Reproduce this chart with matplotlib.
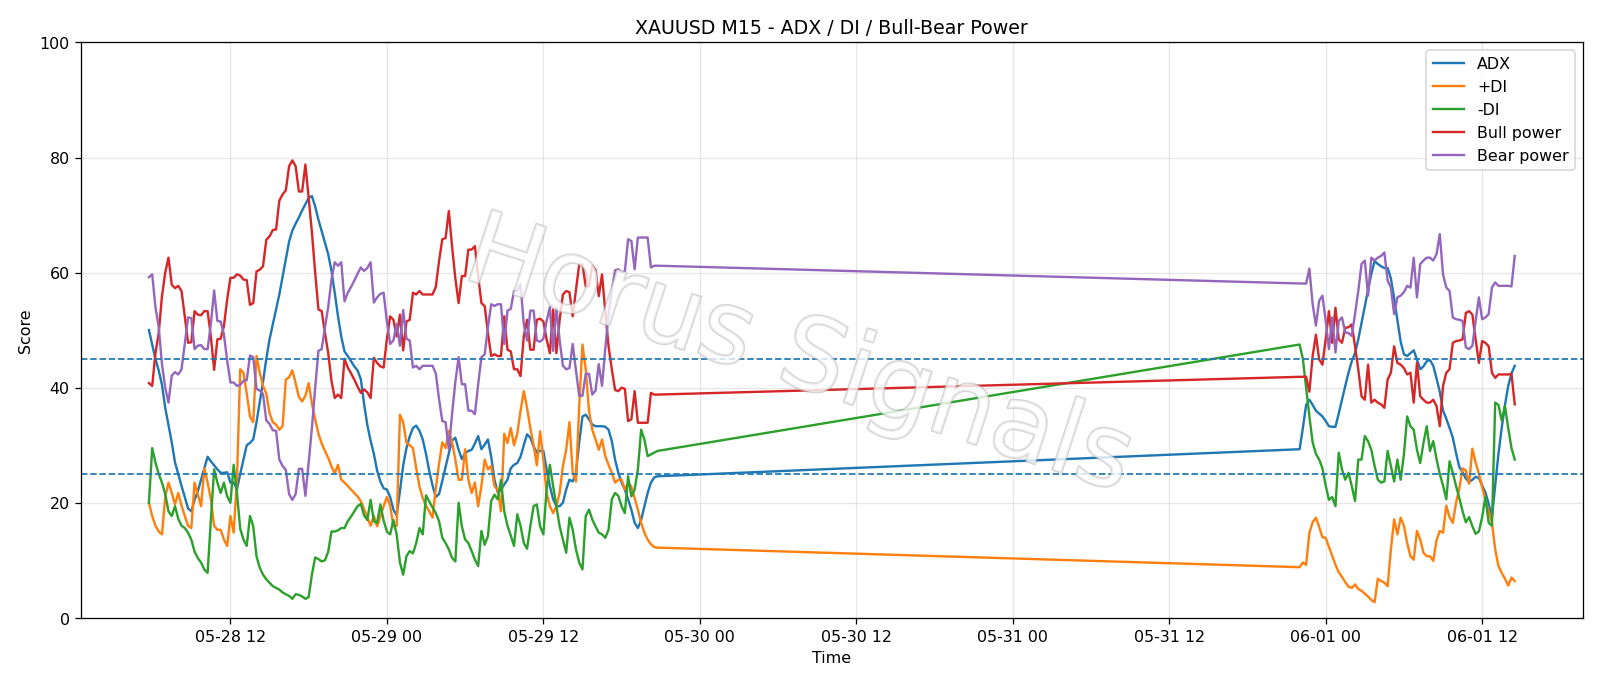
import numpy as np
import pandas as pd
import matplotlib
matplotlib.use("Agg")
import matplotlib.pyplot as plt
import matplotlib.dates as mdates
import matplotlib.patheffects as pe

# two trading sessions of M15 bars (weekend gap in between)
times = pd.date_range("2020-05-28 05:45", periods=157, freq="15min").append(
    pd.date_range("2020-05-31 22:00", periods=67, freq="15min"))

adx = [
    50, 47.5, 45, 43, 40.5, 36.5, 33.5, 30.5, 27, 25,
    22.9, 21, 19, 18.5, 20.5, 22, 24, 26, 28, 27.2,
    26.5, 25.8, 25.2, 25.2, 25.3, 23.5, 23.5, 22.3, 25, 27.5,
    30, 30.4, 31, 34, 37.5, 41, 45, 48.4, 51, 53.6,
    56.2, 59.3, 62.5, 65.4, 67.3, 68.5, 69.6, 70.8, 71.9, 73,
    73.3, 71.5, 69.2, 67.2, 65.2, 63.2, 60.3, 56.5, 52.4, 48.9,
    46.3, 45.5, 44.6, 43.7, 43, 41.5, 37.2, 33.5, 30.8, 28.5,
    25.6, 23.7, 22.5, 22.3, 21, 18.8, 17.8, 22, 26.5, 29.5,
    31.5, 33, 33.4, 32.5, 31, 28.5, 25.5, 23, 21, 21.5,
    23.8, 26.2, 28.6, 30.8, 31.3, 29.2, 27.6, 28.6, 29, 29.2,
    30.3, 31.6, 29.3, 30.1, 31, 28, 24, 21.8, 22.2, 23.2,
    24, 26, 26.6, 26.9, 28, 30, 31.9, 31.3, 29.8, 28.7,
    29, 29, 25.8, 22.9, 20.6, 19.4, 19.4, 20, 22.3, 24,
    23.7, 25.2, 30.5, 35, 35.3, 34.5, 33.6, 33.3, 33.3, 33.3,
    33.2, 32.7, 30.7, 27.5, 25.2, 23.5, 22.3, 20.6, 18.8, 16.5,
    15.6, 17, 19.4, 21.7, 23.5, 24.4, 24.6,
    29.3, 33, 37, 37.9, 37, 36, 35.5, 35, 34.2, 33.3,
    33.2, 33.2, 35.5, 37.9, 40.3, 42.6, 44.6, 46, 48.4, 51.3,
    54.2, 57, 59.8, 62, 61.5, 61.1, 60.8, 60.8, 59, 55.5,
    51.8, 48, 45.8, 45.5, 46, 46.5, 44.9, 43.2, 43.7, 44.6,
    44.8, 43.8, 41.6, 39.3, 36, 34.6, 33, 31.3, 28.6, 26.2,
    25.3, 24.2, 23.6, 24, 24.5, 24.3, 23, 21.8, 19.8, 17.5,
    23, 28.5, 33, 37, 40.3, 42.5, 43.8,
]

plus_di = [
    20, 17.7, 16, 15, 14.5, 21, 23.5, 21.7, 19.7, 21.7,
    19.5, 17.7, 16, 15.6, 23.5, 21.4, 19.4, 26, 23.5, 20.6,
    16, 15.3, 15.3, 13.6, 12.5, 17.7, 14.8, 24, 43.2, 42.6,
    39, 35, 34, 45.5, 42.6, 40.3, 39, 35.6, 34, 33.6,
    32.7, 33.3, 41.4, 41.8, 43, 40.8, 38.4, 37.6, 38.6, 40.8,
    37.2, 34.5, 32, 30.3, 29, 27.8, 26.3, 25.1, 26.6, 24,
    23.5, 22.9, 22.3, 21.7, 21.1, 20.3, 18.9, 17.5, 16, 17.7,
    15.9, 17.6, 19.4, 21, 19.5, 15.9, 16, 35.3, 34, 30.5,
    30, 29.5, 26, 22.8, 20.8, 19.5, 18.5, 17.4, 22.5, 26.8,
    30.5, 29.5, 32.5, 30.5, 27.5, 24, 24, 29.3, 24, 21.7,
    23.5, 19.4, 22.9, 27.5, 25.8, 26.4, 22.9, 22.3, 18.5, 32,
    30.4, 33, 30, 32, 36, 39.4, 36.5, 33, 30, 26.5,
    32.4, 27.5, 21.7, 19.4, 18.2, 19.4, 21.7, 26.4, 29.2, 34,
    25.2, 23.7, 36.8, 47.5, 43.2, 36, 32.7, 31, 29.2, 31,
    28.1, 26.6, 25.2, 23.5, 24, 24, 22.3, 23.5, 22.8, 20.8,
    18.8, 16.5, 14.8, 13.6, 12.8, 12.3, 12.2,
    8.8, 9.6, 9.2, 14.8, 16.6, 17.4, 15.8, 14, 13.9, 12.3,
    10.8, 9.2, 7.9, 7.1, 6.2, 5.4, 5.2, 5.8, 5, 4.7,
    4.2, 3.7, 3.1, 2.7, 6.8, 6.4, 6.1, 5.5, 11.9, 17.1,
    14.5, 17.4, 16, 13, 10.7, 10.1, 15.1, 13.6, 11.3, 10.7,
    10.7, 9.9, 13.5, 15.1, 14.8, 19.5, 17.5, 16.5, 20, 22.5,
    26, 25.6, 23.3, 29.4, 27, 25, 22.7, 20.5, 18.5, 16.5,
    11.9, 9, 7.8, 6.8, 5.6, 7, 6.4,
]

minus_di = [
    20, 29.5, 27, 25, 23.5, 21.5, 18.5, 17.7, 19.4, 17.2,
    16, 15.6, 14.8, 13.6, 11.5, 10.4, 9.6, 8.4, 7.8, 17,
    25.8, 23.5, 21.7, 23.5, 21.1, 20, 26.6, 21.7, 15.5, 13.6,
    12.5, 17.7, 15.9, 10.7, 8.7, 7.5, 6.7, 6.1, 5.5, 5.2,
    4.9, 4.4, 4.1, 3.8, 3.3, 4.1, 4, 3.7, 3.3, 3.6,
    7.5, 10.5, 10.2, 9.8, 10, 11.5, 15, 15, 15.2, 15.6,
    15.6, 16.8, 17.6, 18.5, 19.4, 19.8, 17.8, 17, 20.5, 16.8,
    16.5, 19.7, 16.9, 15, 14.5, 17, 14.5, 9.6, 7.5, 10.7,
    11.6, 11.2, 13, 15.6, 14.5, 21.3, 20.2, 19.2, 18.2, 16.8,
    13.9, 13, 11.9, 10.4, 9.8, 20, 15.9, 13.6, 13, 11.6,
    10.1, 9, 15.1, 12.7, 14.2, 20.3, 21.4, 20.6, 24, 18.5,
    16, 14.3, 12.5, 18, 16, 13, 12, 15.9, 19.4, 19.7,
    15.9, 14.5, 22.3, 26.6, 22.9, 19.4, 15.9, 13.6, 11.3, 17.4,
    15.3, 11.9, 9.6, 8.4, 17.7, 18.8, 17.1, 15.9, 14.8, 14.5,
    13.9, 15.3, 20.6, 21.7, 21.2, 19.4, 18.2, 24.6, 21.1, 22.3,
    25.8, 32.7, 31, 28.1, 28.4, 28.7, 29,
    47.5, 45, 40, 35, 30.5, 28.5, 27.5, 26, 23, 20.5,
    21, 19.4, 28.7, 25.8, 24, 25.2, 22.9, 20.3, 27.5, 27.5,
    31.6, 30.7, 29.2, 26.4, 24, 23.5, 23.7, 29, 26.4, 23.7,
    27.5, 24, 28.4, 35, 33.3, 32.7, 29.2, 26.9, 30.4, 33.3,
    29, 30.7, 27.6, 25, 23, 20.6, 27.2, 25.2, 22.9, 20.8,
    18.5, 16.6, 17.5, 15.9, 14.6, 15, 17.5, 21, 16.5, 16,
    37.4, 37, 34.3, 36.8, 33, 29.5, 27.5,
]

bull = [
    40.8, 40.3, 46, 49.5, 55.9, 60, 62.6, 57.9, 57.3, 57.7,
    56.8, 52.4, 47.8, 47.9, 53.3, 52.7, 52.6, 53.3, 53.3, 48.9,
    43.1, 48.4, 48.5, 50.7, 55.3, 59.1, 59.1, 59.7, 59.5, 58.8,
    58.7, 54.4, 54.7, 60.2, 60.5, 61.1, 65.7, 66.3, 67.4, 67.5,
    72.5, 73.6, 74.3, 78.5, 79.5, 78.5, 74.1, 74.1, 78.8, 73,
    67, 60, 53.6, 53.3, 49.5, 46, 41.2, 38.2, 38.8, 38.2,
    45, 43.5, 42.5, 41.4, 40.2, 39.1, 39.7, 39.2, 38.2, 45.2,
    44.3, 43.7, 43.5, 48.5, 52.4, 51.8, 48.9, 52.7, 46.5, 51.5,
    51.8, 56.5, 56.2, 56.8, 56.2, 56.2, 56.2, 56.2, 57.5, 62,
    65.8, 66, 70.7, 64.5, 59, 54.7, 59.4, 59.4, 64, 64,
    64.6, 59.4, 54.7, 54.2, 49.5, 45.5, 45.8, 45.5, 45.5, 52.4,
    46.6, 46.3, 43.2, 43.2, 42, 49, 51.8, 46.6, 46.6, 51.8,
    52, 51.5, 48.4, 46, 53.6, 46, 51.8, 56.2, 56.8, 56.6,
    52.4, 57, 61.4, 61.4, 57.6, 57.6, 61.2, 60.5, 55.9, 59.7,
    53.2, 47.2, 43.2, 39.6, 39.4, 40, 39.8, 34.2, 34.5, 39.4,
    33.9, 33.9, 33.9, 33.9, 39.1, 38.8, 38.8,
    41.9, 41.9, 41.9, 39.3, 45.5, 49.2, 44.9, 44, 48.4, 53.3,
    47.8, 53.9, 48.4, 47.8, 50.4, 50.5, 51, 47.2, 43.2, 38.5,
    37.9, 44, 37.4, 37.9, 37.4, 37.1, 36.5, 41.4, 42.6, 47.2,
    44.3, 44, 43.4, 42.3, 42.6, 37.4, 44.3, 38.5, 37.9, 37.4,
    37.4, 37.9, 36.8, 33.3, 40.3, 42.6, 43.2, 47.8, 48.1, 48.2,
    48.4, 53, 53.3, 52.7, 48.4, 44.3, 48.1, 47.8, 47.2, 42.6,
    41.7, 42.3, 42.3, 42.3, 42.3, 42.4, 37.1,
]

bear = [
    59.2, 59.7, 54, 50.5, 44.1, 40, 37.4, 42.1, 42.7, 42.3,
    43.2, 47.6, 52.2, 52.1, 46.7, 47.3, 47.4, 46.7, 46.7, 51.1,
    56.9, 51.6, 51.5, 49.3, 44.7, 40.9, 40.9, 40.3, 40.5, 41.2,
    41.3, 45.6, 45.3, 39.8, 39.5, 38.9, 34.3, 33.7, 32.6, 32.5,
    27.5, 26.4, 25.7, 21.5, 20.5, 21.5, 25.9, 25.9, 21.2, 27,
    33, 40, 46.4, 46.7, 50.5, 54, 58.8, 61.8, 61.2, 61.8,
    55, 56.5, 57.5, 58.6, 59.8, 60.9, 60.3, 60.8, 61.8, 54.8,
    55.7, 56.3, 56.5, 51.5, 47.6, 48.2, 51.1, 47.3, 53.5, 48.5,
    48.2, 43.5, 43.8, 43.2, 43.8, 43.8, 43.8, 43.8, 42.5, 38,
    34.2, 34, 29.3, 35.5, 41, 45.3, 40.6, 40.6, 36, 36,
    35.4, 40.6, 45.3, 45.8, 50.5, 54.5, 54.2, 54.5, 54.5, 47.6,
    53.4, 53.7, 56.8, 56.8, 58, 51, 48.2, 53.4, 53.4, 48.2,
    48, 48.5, 51.6, 54, 46.4, 54, 48.2, 43.8, 43.2, 43.4,
    47.6, 43, 38.6, 38.6, 42.4, 42.4, 38.8, 39.5, 44.1, 40.3,
    46.8, 52.8, 56.8, 60.4, 60.6, 60, 60.2, 65.8, 65.5, 60.6,
    66.1, 66.1, 66.1, 66.1, 60.9, 61.2, 61.2,
    58.1, 58.1, 58.1, 60.7, 54.5, 50.8, 55.1, 56, 51.6, 46.7,
    52.2, 46.1, 51.6, 52.2, 49.6, 49.5, 49, 52.8, 56.8, 61.5,
    62.1, 56, 62.6, 62.1, 62.6, 62.9, 63.5, 58.6, 57.4, 52.8,
    55.7, 56, 56.6, 57.7, 57.4, 62.6, 55.7, 61.5, 62.1, 62.6,
    62.6, 62.1, 63.2, 66.7, 59.7, 57.4, 56.8, 52.2, 51.9, 51.8,
    51.6, 47, 46.7, 47.3, 51.6, 55.7, 51.9, 52.2, 52.8, 57.4,
    58.3, 57.7, 57.7, 57.7, 57.7, 57.6, 62.9,
]

levels = [25, 45]

fig, ax = plt.subplots(figsize=(14, 6), dpi=1600 / 14)
fig.subplots_adjust(left=0.0504, right=0.9894, top=0.937, bottom=0.098)

ax.plot(times, adx, label="ADX")
ax.plot(times, plus_di, label="+DI")
ax.plot(times, minus_di, label="-DI")
ax.plot(times, bull, label="Bull power")
ax.plot(times, bear, label="Bear power")

for lv in levels:
    ax.axhline(lv, color="tab:blue", linestyle="--", linewidth=1.1)

ax.set_ylim(0, 100)
ax.grid(True, alpha=0.3)
ax.xaxis.set_major_locator(mdates.HourLocator(byhour=[0, 12]))
ax.xaxis.set_major_formatter(mdates.DateFormatter("%m-%d %H"))

ax.set_title("XAUUSD M15 - ADX / DI / Bull-Bear Power")
ax.set_xlabel("Time")
ax.set_ylabel("Score")
ax.legend(loc="upper right")

# watermark
ax.text(0.478, 0.452, "Horus Signals", transform=ax.transAxes,
        fontsize=64, color="white", alpha=0.55, rotation=-18,
        ha="center", va="center", zorder=10,
        path_effects=[pe.withStroke(linewidth=1.6, foreground="#b4b4b4")])

fig.savefig("out.png", dpi=1600 / 14)
